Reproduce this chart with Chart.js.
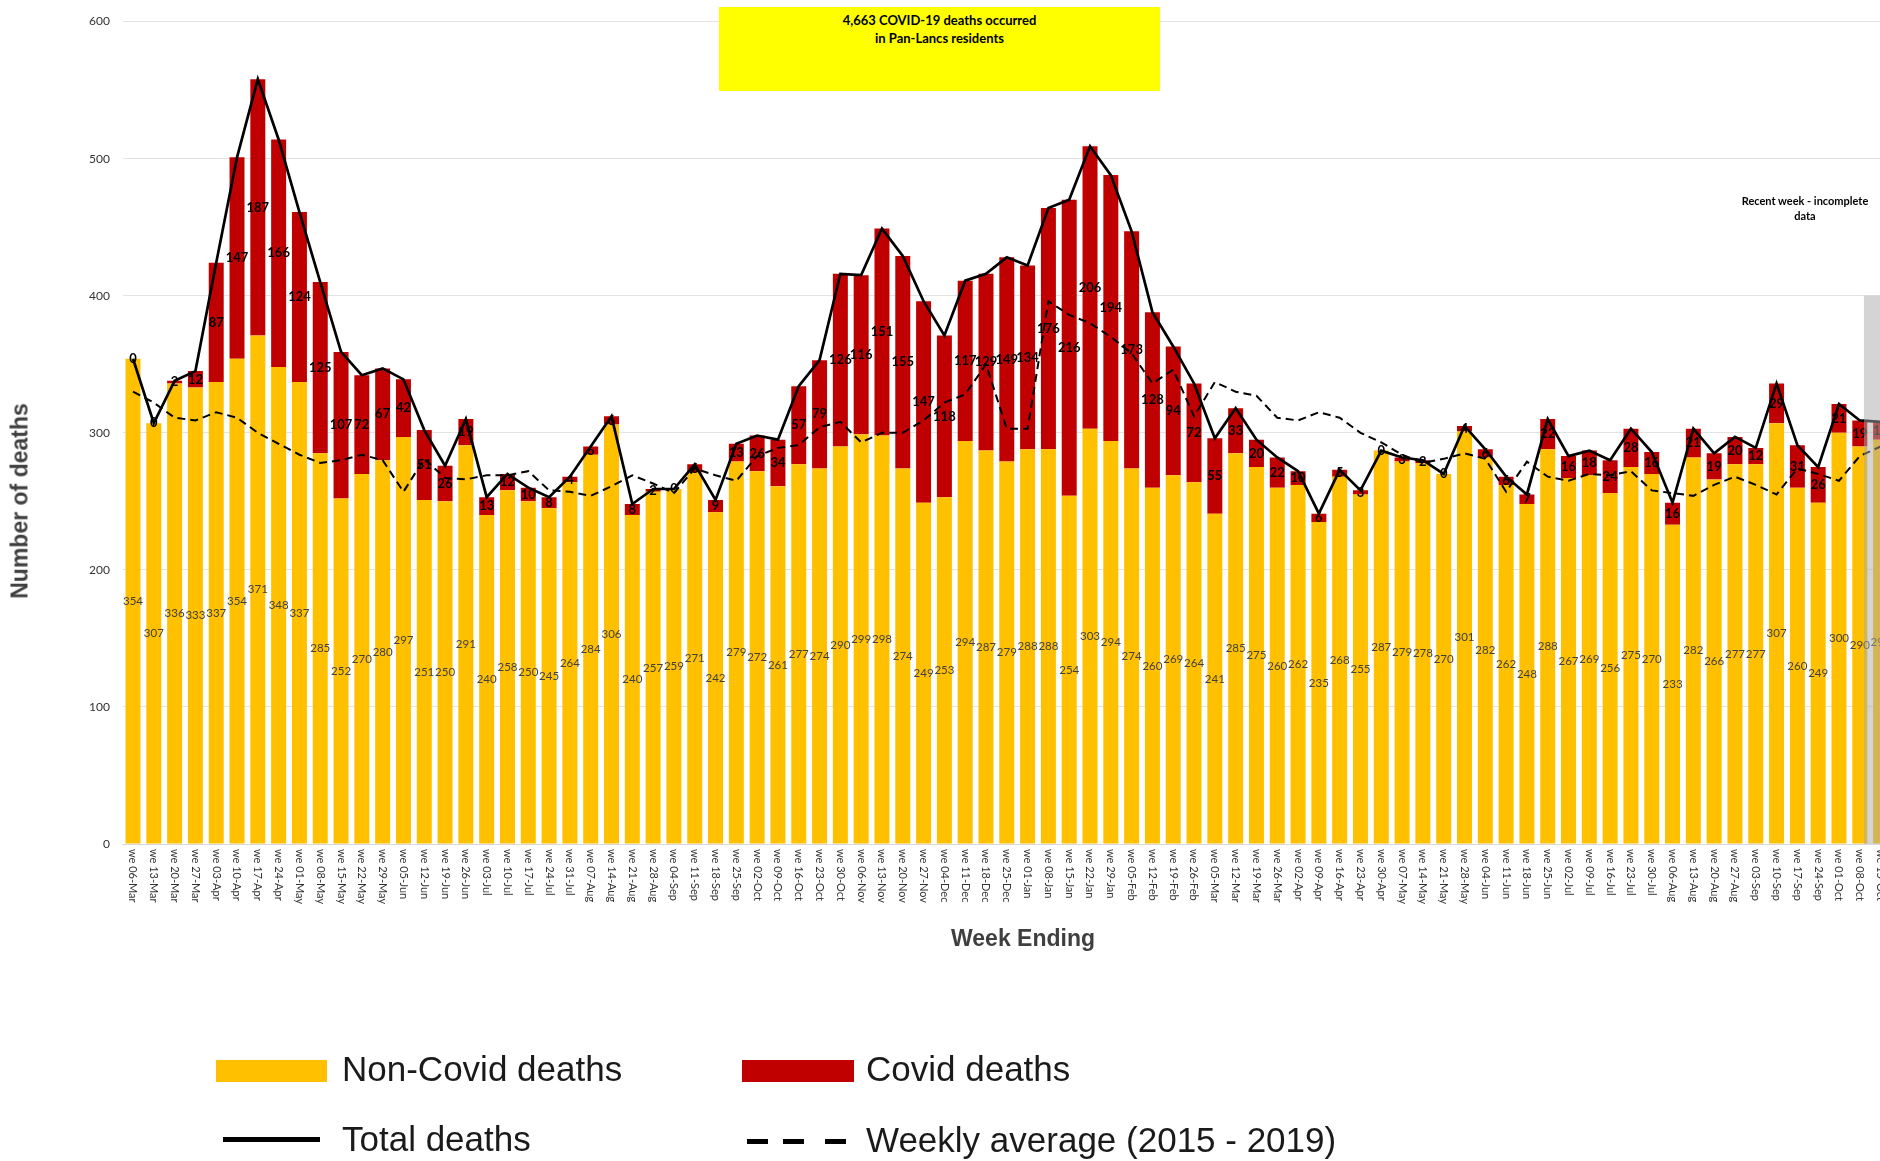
<!DOCTYPE html>
<html>
<head>
<meta charset="utf-8">
<title>Pan-Lancs weekly deaths</title>
<script src="https://cdn.jsdelivr.net/npm/chart.js@4.4.1/dist/chart.umd.min.js"></script>
<style>
    html, body { margin: 0; padding: 0; background: #fff; width: 1880px; height: 1161px; overflow: hidden; }
    #wrap { position: absolute; left: 0; top: 0; width: 1891px; height: 1161px; }
    .abs { position: absolute; white-space: nowrap; }
    #box { left: 719px; top: 7px; width: 441px; height: 84px; background: #ffff00; padding-top: 5px; box-sizing: border-box;
           font: bold 13px Lato, sans-serif; line-height: 17.6px; text-align: center; color: #000; }
    #recent { left: 1735px; top: 193px; width: 140px; font: bold 11px Lato, sans-serif; line-height: 15px; text-align: center; color: #000; }
    #ytitle { left: 20px; top: 501px; transform: translate(-50%, -50%) rotate(-90deg); font: bold 23px "Liberation Sans", Arial, sans-serif; color: #3f3f3f; }
    #xtitle { left: 1023px; top: 938px; transform: translate(-50%, -50%); font: bold 23px "Liberation Sans", Arial, sans-serif; color: #3f3f3f; }
    .leg { font: 35px "Liberation Sans", Arial, sans-serif; line-height: 40px; color: #1a1a1a; }
    .sw { height: 22px; }
    .dash { top: 1139px; width: 21px; height: 5px; background: #000; }
</style>
</head>
<body>
<div id="wrap"><canvas id="chart"></canvas></div>

<div class="abs" id="box">4,663 COVID-19 deaths occurred<br>in Pan-Lancs residents</div>
<div class="abs" id="recent">Recent week - incomplete<br>data</div>
<div class="abs" id="ytitle">Number of deaths</div>
<div class="abs" id="xtitle">Week Ending</div>

<div class="abs sw" style="left:216px; top:1060px; width:111px; background:#FFC000;"></div>
<div class="abs leg" style="left:342px; top:1049px;">Non-Covid deaths</div>
<div class="abs sw" style="left:742px; top:1060px; width:112px; background:#C00000;"></div>
<div class="abs leg" style="left:866px; top:1049px;">Covid deaths</div>
<div class="abs" style="left:223px; top:1137px; width:97px; height:5px; background:#000;"></div>
<div class="abs leg" style="left:342px; top:1119px;">Total deaths</div>
<div class="abs dash" style="left:747px;"></div>
<div class="abs dash" style="left:783px;"></div>
<div class="abs dash" style="left:825px;"></div>
<div class="abs leg" style="left:866px; top:1120px;">Weekly average (2015 - 2019)</div>

<script>
// weeks ending, Mar 2020 - Oct 2021
const weeks = [
    'we 06-Mar', 'we 13-Mar', 'we 20-Mar', 'we 27-Mar', 'we 03-Apr', 'we 10-Apr', 'we 17-Apr', 'we 24-Apr',
    'we 01-May', 'we 08-May', 'we 15-May', 'we 22-May', 'we 29-May', 'we 05-Jun', 'we 12-Jun', 'we 19-Jun',
    'we 26-Jun', 'we 03-Jul', 'we 10-Jul', 'we 17-Jul', 'we 24-Jul', 'we 31-Jul', 'we 07-Aug', 'we 14-Aug',
    'we 21-Aug', 'we 28-Aug', 'we 04-Sep', 'we 11-Sep', 'we 18-Sep', 'we 25-Sep', 'we 02-Oct', 'we 09-Oct',
    'we 16-Oct', 'we 23-Oct', 'we 30-Oct', 'we 06-Nov', 'we 13-Nov', 'we 20-Nov', 'we 27-Nov', 'we 04-Dec',
    'we 11-Dec', 'we 18-Dec', 'we 25-Dec', 'we 01-Jan', 'we 08-Jan', 'we 15-Jan', 'we 22-Jan', 'we 29-Jan',
    'we 05-Feb', 'we 12-Feb', 'we 19-Feb', 'we 26-Feb', 'we 05-Mar', 'we 12-Mar', 'we 19-Mar', 'we 26-Mar',
    'we 02-Apr', 'we 09-Apr', 'we 16-Apr', 'we 23-Apr', 'we 30-Apr', 'we 07-May', 'we 14-May', 'we 21-May',
    'we 28-May', 'we 04-Jun', 'we 11-Jun', 'we 18-Jun', 'we 25-Jun', 'we 02-Jul', 'we 09-Jul', 'we 16-Jul',
    'we 23-Jul', 'we 30-Jul', 'we 06-Aug', 'we 13-Aug', 'we 20-Aug', 'we 27-Aug', 'we 03-Sep', 'we 10-Sep',
    'we 17-Sep', 'we 24-Sep', 'we 01-Oct', 'we 08-Oct', 'we 15-Oct'
];

const nonCovid = [
    354, 307, 336, 333, 337, 354, 371, 348, 337, 285,
    252, 270, 280, 297, 251, 250, 291, 240, 258, 250,
    245, 264, 284, 306, 240, 257, 259, 271, 242, 279,
    272, 261, 277, 274, 290, 299, 298, 274, 249, 253,
    294, 287, 279, 288, 288, 254, 303, 294, 274, 260,
    269, 264, 241, 285, 275, 260, 262, 235, 268, 255,
    287, 279, 278, 270, 301, 282, 262, 248, 288, 267,
    269, 256, 275, 270, 233, 282, 266, 277, 277, 307,
    260, 249, 300, 290, 295
];

const covid = [
    0, 0, 2, 12, 87, 147, 187, 166, 124, 125,
    107, 72, 67, 42, 51, 26, 19, 13, 12, 10,
    8, 4, 6, 6, 8, 2, 0, 6, 9, 13,
    26, 34, 57, 79, 126, 116, 151, 155, 147, 118,
    117, 129, 149, 134, 176, 216, 206, 194, 173, 128,
    94, 72, 55, 33, 20, 22, 10, 6, 5, 3,
    0, 3, 2, 0, 4, 6, 6, 7, 22, 16,
    18, 24, 28, 16, 16, 21, 19, 20, 12, 29,
    31, 26, 21, 19, 13
];

const totals = [
    354, 307, 338, 345, 424, 501, 558, 514, 461, 410,
    359, 342, 347, 339, 302, 276, 310, 253, 270, 260,
    253, 268, 290, 312, 248, 259, 259, 277, 251, 292,
    298, 295, 334, 353, 416, 415, 449, 429, 396, 371,
    411, 416, 428, 422, 464, 470, 509, 488, 447, 388,
    363, 336, 296, 318, 295, 282, 272, 241, 273, 258,
    287, 282, 280, 270, 305, 288, 268, 255, 310, 283,
    287, 280, 303, 286, 249, 303, 285, 297, 289, 336,
    291, 275, 321, 309, 308
];

// weekly average 2015 - 2019 (dashed line)
const average = [
    330, 322, 311, 309, 315, 311, 300, 292, 284, 278,
    280, 284, 280, 257, 281, 267, 266, 269, 269, 272,
    258, 257, 254, 261, 269, 263, 256, 274, 269, 265,
    283, 289, 291, 304, 308, 293, 300, 300, 309, 322,
    328, 350, 303, 303, 396, 386, 380, 370, 358, 336,
    346, 312, 337, 330, 327, 311, 309, 315, 311, 300,
    293, 284, 278, 281, 285, 281, 257, 279, 268, 265,
    270, 269, 272, 258, 256, 254, 262, 268, 262, 255,
    274, 270, 265, 283, 290
];

const yTicks = [0, 100, 200, 300, 400, 500, 600];
const incompleteFrom = 84;   // last week is incomplete
const incompleteTop = 400;

// numbers on the bars, rotated week labels, grey "incomplete" band
const extras = {
    id: 'extras',
    afterDatasetsDraw(chart) {
        const ctx = chart.ctx;
        const x = chart.scales.x;
        const y = chart.scales.y;
        ctx.save();
        ctx.textAlign = 'center';
        ctx.textBaseline = 'middle';
        nonCovid.forEach((v, i) => {
            const px = x.getPixelForValue(i);
            ctx.font = '11.5px Lato';
            ctx.fillStyle = '#404040';
            ctx.fillText(String(v), px, y.getPixelForValue(v / 2));
            ctx.font = 'bold 13px Lato';
            ctx.fillStyle = '#000';
            ctx.fillText(String(covid[i]), px, y.getPixelForValue(v + covid[i] / 2));
        });

        // shaded band over the last (incomplete) week
        const step = x.getPixelForValue(1) - x.getPixelForValue(0);
        const left = x.getPixelForValue(incompleteFrom - 1) + step * 0.2;
        const top = y.getPixelForValue(incompleteTop);
        ctx.fillStyle = 'rgba(170,170,170,0.5)';
        ctx.fillRect(left, top, chart.width - left, chart.chartArea.bottom - top);

        // week labels, reading downwards
        ctx.font = '11px Lato';
        ctx.fillStyle = '#333';
        ctx.textAlign = 'left';
        weeks.forEach((w, i) => {
            ctx.save();
            ctx.translate(x.getPixelForValue(i), chart.chartArea.bottom + 5);
            ctx.rotate(Math.PI / 2);
            ctx.fillText(w, 0, 0);
            ctx.restore();
        });
        ctx.restore();
    }
};

new Chart(document.getElementById('chart'), {
    type: 'bar',
    data: {
        labels: weeks,
        datasets: [
            {
                label: 'Non-Covid deaths',
                data: nonCovid,
                backgroundColor: '#FFC000',
                stack: 'deaths',
                order: 2,
                barPercentage: 0.72,
                categoryPercentage: 1
            },
            {
                label: 'Covid deaths',
                data: covid,
                backgroundColor: '#C00000',
                stack: 'deaths',
                order: 2,
                barPercentage: 0.72,
                categoryPercentage: 1
            },
            {
                type: 'line',
                label: 'Total deaths',
                data: totals,
                borderColor: '#000',
                borderWidth: 2.7,
                pointRadius: 0,
                stack: 'total',
                order: 1
            },
            {
                type: 'line',
                label: 'Weekly average (2015 - 2019)',
                data: average,
                borderColor: '#000',
                borderWidth: 2,
                borderDash: [8, 5],
                pointRadius: 0,
                stack: 'avg',
                order: 1
            }
        ]
    },
    options: {
        responsive: true,
        maintainAspectRatio: false,
        animation: false,
        layout: { padding: { top: 21.6, right: 0, bottom: 0, left: 0 } },
        plugins: { legend: { display: false }, tooltip: { enabled: false } },
        scales: {
            x: {
                stacked: true,
                grid: { display: false },
                border: { color: '#d9d9d9' },
                ticks: { display: false },
                afterFit: s => { s.height = 317; }
            },
            y: {
                stacked: true,
                min: yTicks[0],
                max: yTicks[yTicks.length - 1],
                afterBuildTicks: s => { s.ticks = yTicks.map(v => ({ value: v })); },
                ticks: { padding: 12.6, color: '#333', font: { family: 'Lato', size: 12 } },
                grid: { color: '#e3e3e3', drawTicks: false },
                border: { display: false },
                afterFit: s => { s.width = 122.6; }
            }
        }
    },
    plugins: [extras]
});
</script>
</body>
</html>
